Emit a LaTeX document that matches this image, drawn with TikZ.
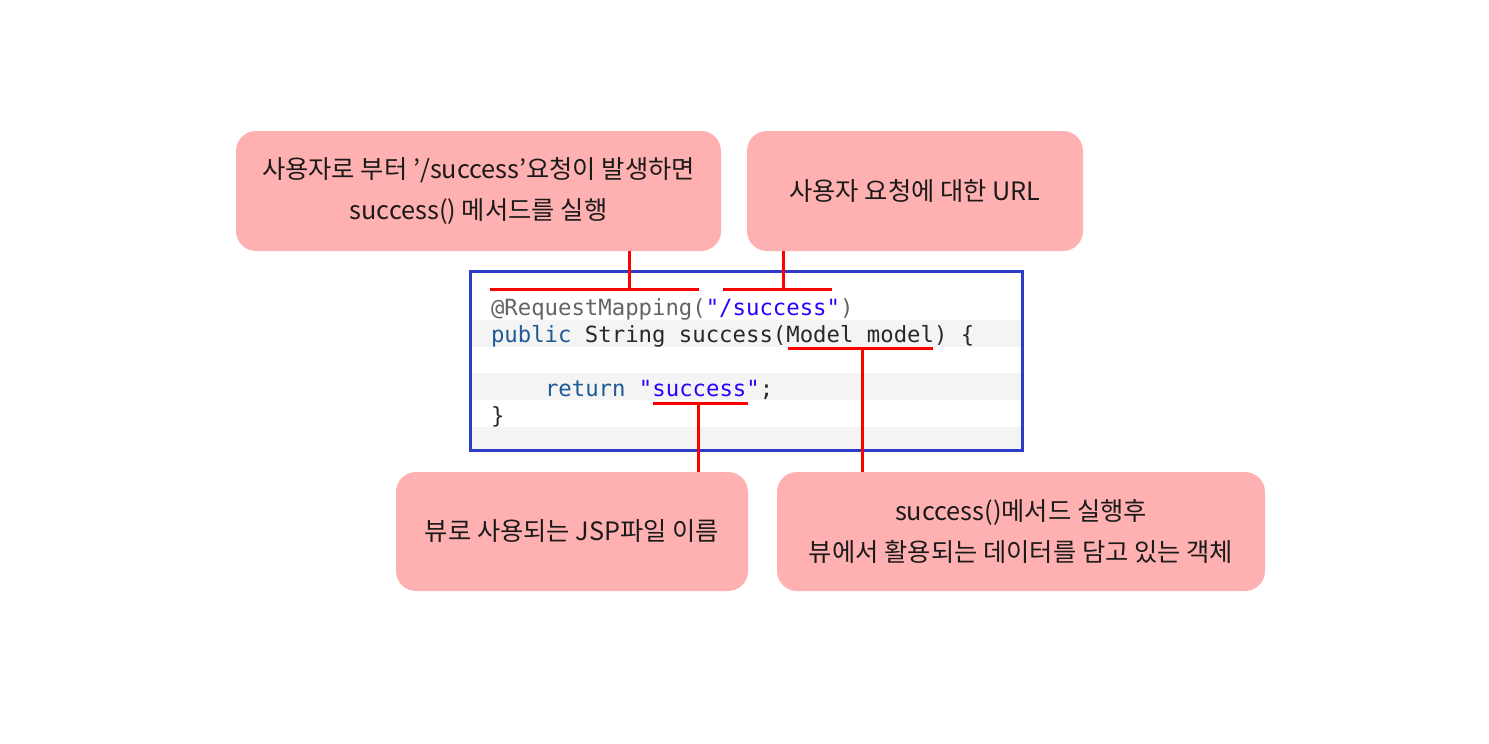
\documentclass[tikz,border=0pt]{standalone}
\usepackage{fontspec}
\setmainfont{Noto Sans CJK KR}
\newfontfamily\codefont{DejaVu Sans Mono}
\definecolor{boxfill}{RGB}{255,176,176}
\definecolor{txt}{RGB}{26,26,26}
\definecolor{codeblue}{RGB}{45,60,200}
\definecolor{stripe}{RGB}{244,244,244}
\definecolor{annot}{RGB}{100,100,100}
\definecolor{strcol}{RGB}{42,0,255}
\definecolor{kwcol}{RGB}{30,90,150}
\definecolor{plain}{RGB}{40,40,40}
\begin{document}
\begin{tikzpicture}[x=1pt,y=-1pt,
  note/.style={fill=boxfill, rounded corners=20pt, inner sep=0pt, outer sep=0pt,
    align=center, font=\fontsize{25.3}{41}\selectfont, text=txt},
  redline/.style={draw=red, line width=3pt},
  codeline/.style={anchor=base west, inner sep=0pt, outer sep=0pt,
    font=\codefont\fontsize{22.3}{27}\selectfont, text=plain}]
\useasboundingbox (0,0) rectangle (1489,744);
\fill[white] (0,0) rectangle (1489,744);

% annotation boxes
\node[note, minimum width=485pt, minimum height=120pt] (b1) at (478.5,191)
  {사용자로 부터 ’/success’요청이 발생하면\\success() 메서드를 실행};
\node[note, minimum width=336pt, minimum height=120pt] (b2) at (915,191)
  {사용자 요청에 대한 URL};
\node[note, minimum width=352pt, minimum height=119pt] (b3) at (572,531.5)
  {뷰로 사용되는 JSP파일 이름};
\node[note, minimum width=488pt, minimum height=119pt] (b4) at (1021,531.5)
  {success()메서드 실행후\\뷰에서 활용되는 데이터를 담고 있는 객체};

% code box
\fill[stripe] (471,320) rectangle (1021,347);
\fill[stripe] (471,373) rectangle (1021,400);
\fill[stripe] (471,427) rectangle (1021,449);
\node[draw=codeblue, line width=3pt, minimum width=552pt, minimum height=179pt,
  inner sep=0pt] (cb) at (746,361) {};

\node[codeline] (l1) at (491,315) {{\color{annot}@RequestMapping(}{\color{strcol}"/success"}{\color{annot})}};
\node[codeline] (l2) at (491,342) {{\color{kwcol}public} String success(Model model) \{};
\node[codeline] (l4) at (545,396) {{\color{kwcol}return} {\color{strcol}"success"};};
\node[codeline] (l5) at (491,423) {\}};

% red connectors
\coordinate (u1a) at (490,289);
\coordinate (u1b) at (699,289);
\coordinate (t1) at (629,289);
\coordinate (u2a) at (723,289);
\coordinate (u2b) at (832,289);
\coordinate (t2) at (783,289);
\coordinate (u3a) at (788,348);
\coordinate (u3b) at (933,348);
\coordinate (t3) at (862,348);
\coordinate (u4a) at (653,403);
\coordinate (u4b) at (748,403);
\coordinate (t4) at (698,403);

\draw[redline] (u1a) -- (u1b);
\draw[redline] (b1.south -| t1) -- (t1);
\draw[redline] (u2a) -- (u2b);
\draw[redline] (b2.south -| t2) -- (t2);
\draw[redline] (u3a) -- (u3b);
\draw[redline] (t3) -- (b4.north -| t3);
\draw[redline] (u4a) -- (u4b);
\draw[redline] (t4) -- (b3.north -| t4);
\end{tikzpicture}
\end{document}
